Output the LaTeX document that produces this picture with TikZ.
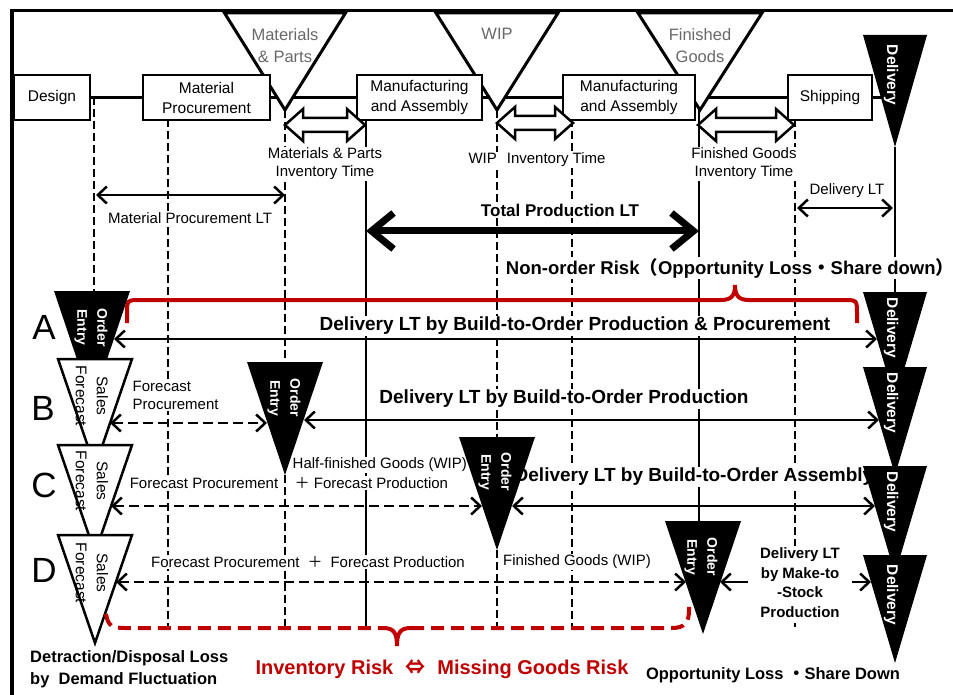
\documentclass[tikz,border=0pt]{standalone}
\usepackage{fontspec}
\setmainfont{Liberation Sans}
\newfontfamily\jp{Noto Sans CJK JP}
\usetikzlibrary{arrows.meta}
\definecolor{riskred}{RGB}{192,0,0}
\definecolor{stockgray}{RGB}{105,105,105}
\pgfdeclarelayer{guides}
\pgfsetlayers{guides,main}

% inverted triangle: name, centre x, top y, half width, height, style
\newcommand{\invtri}[6]{%
  \coordinate (#1-top) at (#2,#3);
  \coordinate (#1-apex) at (#2,#3+#5);
  \coordinate (#1-tl) at (#2-#4,#3);
  \coordinate (#1-tr) at (#2+#4,#3);
  \path[#6] (#1-tl) -- (#1-tr) -- (#1-apex) -- cycle;}

% hollow double-headed block arrow: left tip x, right tip x, centre y
\newcommand{\hollowarrow}[3]{%
  \path[hollow] (#1,#3) -- (#1+18,#3-16) -- (#1+18,#3-7) -- (#2-18,#3-7)
    -- (#2-18,#3-16) -- (#2,#3) -- (#2-18,#3+16) -- (#2-18,#3+7)
    -- (#1+18,#3+7) -- (#1+18,#3+16) -- cycle;}

\tikzset{
  framerule/.style={line width=3.5pt},
  flowline/.style={line width=3pt},
  procbox/.style={draw, line width=2.5pt, fill=white, inner sep=0pt,
    minimum height=45pt, align=center, font=\fontsize{15.5}{20}\selectfont},
  stocktri/.style={draw, line width=3pt, fill=white, line join=miter},
  darktri/.style={fill=black},
  fcsttri/.style={draw, line width=2.5pt, fill=white},
  dashguide/.style={line width=2pt, dash pattern=on 8pt off 4pt},
  solidguide/.style={line width=2pt},
  hollow/.style={draw, line width=2.5pt, fill=white, line join=miter},
  lbl/.style={fill=white, inner sep=1.5pt, align=center,
    font=\fontsize{15}{18}\selectfont},
  boldlbl/.style={fill=white, inner sep=1.5pt, align=center,
    font=\bfseries\fontsize{19}{23}\selectfont},
  stocklbl/.style={text=stockgray, align=center, inner sep=0pt,
    font=\fontsize{16.5}{22}\selectfont},
  oetxt/.style={rotate=-90, text=white, align=center, inner sep=0pt,
    font=\bfseries\fontsize{14}{20}\selectfont},
  dlvtxt/.style={rotate=-90, text=white, inner sep=0pt,
    font=\bfseries\fontsize{15.5}{19}\selectfont},
  sftxt/.style={rotate=-90, align=center, inner sep=0pt,
    font=\fontsize{15.5}{21}\selectfont},
  rowletter/.style={inner sep=0pt, font=\fontsize{35}{40}\selectfont},
  mtslbl/.style={fill=white, align=center, inner xsep=12pt, inner ysep=2pt,
    font=\bfseries\fontsize{15}{19.5}\selectfont},
  ltbarb/.tip={Straight Barb[length=9pt,width=17pt]},
  bigbarb/.tip={Straight Barb[length=22pt,width=36pt]},
  lt/.style={line width=2.5pt, ltbarb-ltbarb},
  ltdash/.style={lt, dash pattern=on 10pt off 5pt},
  riskline/.style={draw=riskred, line width=4pt},
  riskdash/.style={riskline, dash pattern=on 13pt off 7pt},
}

\begin{document}
\begin{tikzpicture}[x=1pt,y=-1pt]
\useasboundingbox (0,0) rectangle (953,695);

% outer frame (open to the right and bottom)
\draw[framerule] (12,695) -- (12,10.5) -- (953,10.5);

% ---------- process chain ----------
\invtri{mp}{285}{13}{60.5}{97}{stocktri}
\invtri{wip}{497}{13}{61}{97}{stocktri}
\invtri{fg}{700}{13}{62}{97}{stocktri}
\invtri{dlv}{895}{35}{32}{112}{darktri}

\node[stocklbl] (mp-lbl) at (285,46) {Materials\\\& Parts};
\node[stocklbl] (wip-lbl) at (497,34) {WIP};
\node[stocklbl] (fg-lbl) at (700,46) {Finished\\Goods};
\node[dlvtxt] (dlv-lbl) at (891,75) {Delivery};

\node[procbox, minimum width=76pt] (design) at (52,97.5) {Design};
\node[procbox, minimum width=127pt] (matproc) at (206.5,97.5) {Material\\Procurement};
\node[procbox, minimum width=125pt] (mfg1) at (419.5,97.5) {Manufacturing\\and Assembly};
\node[procbox, minimum width=132pt] (mfg2) at (629,97.5) {Manufacturing\\and Assembly};
\node[procbox, minimum width=84pt] (ship) at (830,97.5) {Shipping};

% inventory time arrows
\hollowarrow{285}{365}{125}
\hollowarrow{497}{573}{123}
\hollowarrow{698}{794}{125}

\node[lbl] (mpinv) at (325,164) {Materials \& Parts\\Inventory Time};
\node[lbl] (wipinv) at (537,160) {WIP\hspace{10pt}Inventory Time};
\node[lbl] (fginv) at (744,164) {Finished Goods\\Inventory Time};
\node[lbl] (dlvlt) at (847,191) {Delivery LT};
\node[lbl] (mplt) at (190,218) {Material Procurement LT};
\node[lbl, font=\bfseries\fontsize{17}{20}\selectfont] (tplt) at (560,210) {Total Production LT};

\coordinate (mpltL) at (96,195);
\coordinate (mpltR) at (285,195);
\draw[lt] (mpltL) -- (mpltR);
\coordinate (dltL) at (797,208);
\coordinate (dltR) at (893,208);
\draw[lt] (dltL) -- (dltR);
\coordinate (tpL) at (366,231);
\coordinate (tpR) at (699,231);
\draw[line width=7pt, bigbarb-bigbarb] (tpL) -- (tpR);

% ---------- A: build to order, production and procurement ----------
\node[boldlbl, font=\bfseries\fontsize{18.5}{22}\selectfont] (nonorder) at (730,268)
  {Non-order Risk{\jp （}Opportunity Loss{\jp ・}Share down{\jp ）}};
\draw[riskline] (127,323) -- (127,314) .. controls (127,300) .. (141,300) -- (721,300)
  .. controls (732,300) and (735,295) .. (735,285)
  .. controls (735,295) and (738,300) .. (749,300) -- (843,300)
  .. controls (857,300) .. (857,314) -- (857,323);
\node[boldlbl] (ltA) at (575,326) {Delivery LT by Build-to-Order Production \& Procurement};

\invtri{oeA}{92}{291}{38}{113}{darktri}
\node[oetxt] (oeA-lbl) at (91,327.5) {Order\\Entry};
\invtri{dA}{895}{292}{32}{108}{darktri}
\node[dlvtxt] (dA-lbl) at (891,328) {Delivery};
\node[rowletter] (rowA) at (44,327) {A};

\coordinate (aL) at (114,339);
\coordinate (aR) at (877,339);
\draw[lt] (aL) -- (aR);

% ---------- B: build to order, production ----------
\node[rowletter] (rowB) at (43,408) {B};
\node[lbl, align=left, anchor=west] (fpB) at (131,395) {Forecast\\Procurement};
\node[boldlbl] (ltB) at (564,399) {Delivery LT by Build-to-Order Production};

\invtri{sfB}{95}{359}{37}{108}{fcsttri}
\node[sftxt] (sfB-lbl) at (92,396) {Sales\\Forecast};
\invtri{oeB}{285}{362}{38}{113}{darktri}
\node[oetxt] (oeB-lbl) at (284,398) {Order\\Entry};
\invtri{dB}{895}{367}{32}{108}{darktri}
\node[dlvtxt] (dB-lbl) at (891,403) {Delivery};

\coordinate (bL) at (110,423);
\coordinate (bM) at (267,423);
\draw[ltdash] (bL) -- (bM);
\coordinate (bN) at (304,420);
\coordinate (bR) at (879,420);
\draw[lt] (bN) -- (bR);

% ---------- C: build to order, assembly ----------
\node[rowletter] (rowC) at (44,485) {C};
\node[lbl, anchor=west] (hfC) at (291,465) {Half-finished Goods (WIP)};
\node[lbl, anchor=west] (fpC2) at (293,483) {{\jp ＋} Forecast Production};
\node[lbl] (fpC1) at (204,483) {Forecast Procurement};
\node[boldlbl] (ltC) at (694,477) {Delivery LT by Build-to-Order Assembly};

\invtri{sfC}{95}{445}{37}{108}{fcsttri}
\node[sftxt] (sfC-lbl) at (92,481) {Sales\\Forecast};
\invtri{oeC}{497}{437}{38}{113}{darktri}
\node[oetxt] (oeC-lbl) at (495,472) {Order\\Entry};
\invtri{dC}{895}{466}{32}{108}{darktri}
\node[dlvtxt] (dC-lbl) at (891,502) {Delivery};

\coordinate (cL) at (111,506);
\coordinate (cM) at (482,506);
\draw[ltdash] (cL) -- (cM);
\coordinate (cN) at (512,506);
\coordinate (cR) at (875,506);
\draw[lt] (cN) -- (cR);

% ---------- D: make to stock ----------
\node[rowletter] (rowD) at (44,570) {D};
\node[lbl] (fpD) at (308,562) {Forecast Procurement\hspace{8pt}{\jp ＋}\hspace{8pt}Forecast Production};
\node[lbl] (fgD) at (577,562) {Finished Goods (WIP)};

\invtri{sfD}{95}{535}{37}{108}{fcsttri}
\node[sftxt] (sfD-lbl) at (92,573) {Sales\\Forecast};
\invtri{oeD}{703}{521}{38}{113}{darktri}
\node[oetxt] (oeD-lbl) at (701,557) {Order\\Entry};
\invtri{dD}{895}{555}{32}{108}{darktri}
\node[dlvtxt] (dD-lbl) at (891,595) {Delivery};

\coordinate (dL) at (116,582);
\coordinate (dM) at (686,582);
\draw[ltdash] (dL) -- (dM);
\node[mtslbl] (mts) at (800,582.5) {Delivery LT\\by Make-to\\-Stock\\Production};
\coordinate (dN) at (720,582);
\coordinate (dR) at (871,582);
\draw[line width=2.5pt, -ltbarb] (mts.west |- dN) -- (dN);
\draw[line width=2.5pt, -ltbarb] (mts.east |- dR) -- (dR);

% ---------- risks ----------
\draw[riskdash] (106,614) .. controls (108,626) and (112,628) .. (125,628) -- (383,628);
\draw[riskline] (383,628) .. controls (394,628) and (397,633) .. (397,646)
  .. controls (397,633) and (400,628) .. (411,628);
\draw[riskdash] (411,628) -- (672,628)
  .. controls (685,628) and (689,622) .. (689,610) -- (689,604);

\node[anchor=west, align=left, inner sep=0pt, font=\bfseries\fontsize{16.5}{22}\selectfont]
  (loss) at (30,669) {Detraction/Disposal Loss\\by\ \ Demand Fluctuation};
\node[text=riskred, inner sep=0pt, font=\bfseries\fontsize{20}{24}\selectfont] (invrisk) at (442,669)
  {Inventory Risk\hspace{12pt}{\jp ⇔}\hspace{12pt}Missing Goods Risk};
\node[inner sep=0pt, font=\bfseries\fontsize{16.5}{20}\selectfont] (opploss) at (773,675)
  {Opportunity Loss {\jp ・}Share Down};

% ---------- flow line and time guides ----------
\begin{pgfonlayer}{guides}
  \draw[flowline] (design.east) -- (matproc.west) (matproc.east) -- (mfg1.west)
    (mfg1.east) -- (mfg2.west) (mfg2.east) -- (ship.west) (ship.east) -- (dlv-apex |- ship.east);
  \draw[dashguide] (94,97) -- (94,291);
  \draw[dashguide] (168,119) -- (168,627);
  \draw[dashguide] (mp-apex) -- (oeB-top);
  \draw[dashguide] (oeB-apex) -- (285,627);
  \draw[solidguide] (366,119) -- (366,627);
  \draw[dashguide] (wip-apex) -- (oeC-top);
  \draw[dashguide] (oeC-apex) -- (497,627);
  \draw[dashguide] (572,119) -- (572,627);
  \draw[solidguide] (699,110) -- (699,521);
  \draw[dashguide] (795,119) -- (795,627);
  \draw[solidguide] (dlv-apex) -- (dA-top);
\end{pgfonlayer}
\end{tikzpicture}
\end{document}
